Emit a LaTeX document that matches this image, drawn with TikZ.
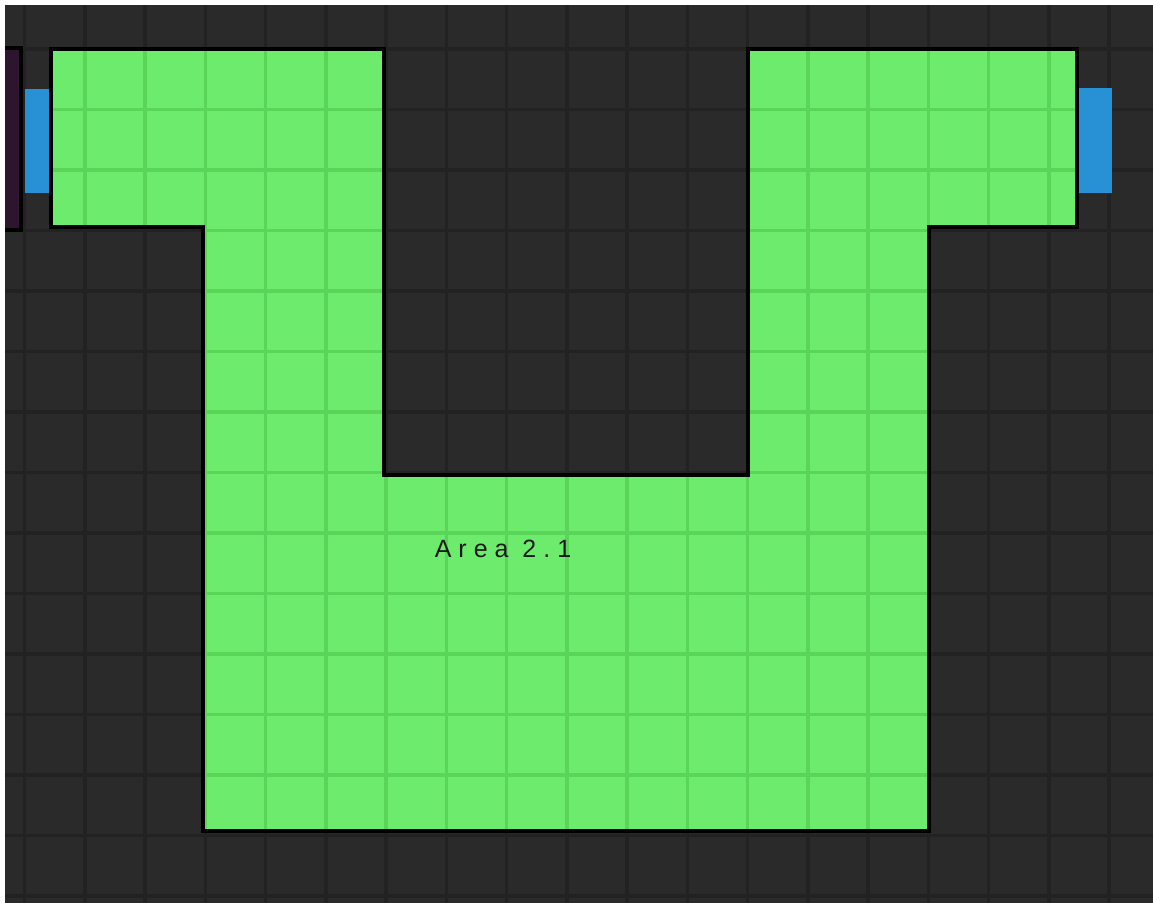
\documentclass[tikz,border=0pt]{standalone}
\usepackage{fontspec}
\newfontfamily\labelfont[LetterSpace=28]{Liberation Sans}
\definecolor{bgdark}{HTML}{2A2A2A}
\definecolor{gridcol}{HTML}{222222}
\definecolor{areagreen}{HTML}{6CEB6C}
\definecolor{areagrid}{HTML}{5AD55A}
\definecolor{doorblue}{HTML}{2891D6}
\definecolor{roompurple}{HTML}{2D1530}
\tikzset{
  gridline/.style={draw=gridcol, line width=3.5pt},
  greengrid/.style={draw=areagrid, line width=3.5pt},
  areaborder/.style={draw=black, line width=3.5pt, line join=miter},
  doorbox/.style={fill=doorblue},
  roombox/.style={fill=roompurple, draw=black, line width=3.5pt},
}
\def\areapath{(51,49) -- (384,49) -- (384,475) -- (748,475) -- (748,49) -- (1077,49) -- (1077,227) -- (929,227) -- (929,831) -- (203,831) -- (203,227) -- (51,227) -- cycle}
\begin{document}
\begin{tikzpicture}[x=1pt,y=-1pt]
\useasboundingbox (0,0) rectangle (1153,903);
\fill[bgdark] (0,0) rectangle (1153,903);
% background grid
\foreach \i in {0,...,18} \draw[gridline] ({24.5+60.25*\i},0) -- ++(0,903);
\foreach \j in {0,...,14} \draw[gridline] (0,{49+60.5*\j}) -- ++(1153,0);
% room on the left edge
\draw[roombox] (-10,48) rectangle (21,230);
% doors
\fill[doorbox] (25,89) rectangle (49,193);
\fill[doorbox] (1079,88) rectangle (1112,193);
% area
\fill[areagreen] \areapath;
\begin{scope}
  \clip \areapath;
  \foreach \i in {0,...,18} \draw[greengrid] ({24.5+60.25*\i},0) -- ++(0,903);
  \foreach \j in {0,...,14} \draw[greengrid] (0,{49+60.5*\j}) -- ++(1153,0);
\end{scope}
\draw[areaborder] \areapath;
\node[font=\labelfont\fontsize{25}{28}\selectfont, text=black!90, inner sep=0pt] (arealabel) at (503,549) {Area 2.1};
% white margins
\fill[white] (0,0) rectangle (1153,5);
\fill[white] (0,0) rectangle (5,903);
\end{tikzpicture}
\end{document}
